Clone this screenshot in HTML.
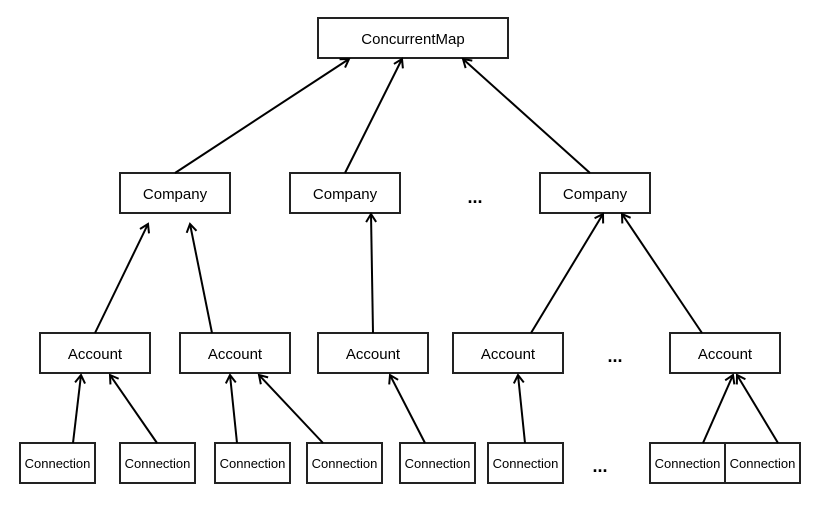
<!DOCTYPE html>
<html><head><style>
html,body{margin:0;padding:0;background:#fff;}
svg{display:block;}
text{font-family:"Liberation Sans",Arial,sans-serif;fill:#000;}
</style></head><body>
<svg width="814" height="506" viewBox="0 0 814 506" xmlns="http://www.w3.org/2000/svg">
<defs>
<marker id="a" markerWidth="12" markerHeight="12" refX="10" refY="6" orient="auto" markerUnits="userSpaceOnUse">
<path d="M2,1 L10,6 L2,11" fill="none" stroke="#000" stroke-width="2"/>
</marker>
</defs>
<g fill="#fff" stroke="#222" stroke-width="2">
<rect x="318" y="18" width="190" height="40"/>
<rect x="120" y="173" width="110" height="40"/>
<rect x="290" y="173" width="110" height="40"/>
<rect x="540" y="173" width="110" height="40"/>
<rect x="40" y="333" width="110" height="40"/>
<rect x="180" y="333" width="110" height="40"/>
<rect x="318" y="333" width="110" height="40"/>
<rect x="453" y="333" width="110" height="40"/>
<rect x="670" y="333" width="110" height="40"/>
<rect x="20" y="443" width="75" height="40"/>
<rect x="120" y="443" width="75" height="40"/>
<rect x="215" y="443" width="75" height="40"/>
<rect x="307" y="443" width="75" height="40"/>
<rect x="400" y="443" width="75" height="40"/>
<rect x="488" y="443" width="75" height="40"/>
<rect x="650" y="443" width="75" height="40"/>
<rect x="725" y="443" width="75" height="40"/>
</g>
<g stroke="#000" stroke-width="2" fill="none" marker-end="url(#a)">
<line x1="175" y1="173" x2="349" y2="59"/>
<line x1="345" y1="173" x2="402" y2="59"/>
<line x1="590" y1="173" x2="463" y2="59"/>
<line x1="95" y1="333" x2="148" y2="224"/>
<line x1="212" y1="333" x2="190" y2="224"/>
<line x1="373" y1="333" x2="371" y2="214"/>
<line x1="531" y1="333" x2="603" y2="214"/>
<line x1="702" y1="333" x2="622" y2="214"/>
<line x1="73" y1="443" x2="81" y2="375"/>
<line x1="157" y1="443" x2="110" y2="375"/>
<line x1="237" y1="443" x2="230" y2="375"/>
<line x1="323" y1="443" x2="259" y2="375"/>
<line x1="425" y1="443" x2="390" y2="375"/>
<line x1="525" y1="443" x2="518" y2="375"/>
<line x1="703" y1="443" x2="733" y2="375"/>
<line x1="778" y1="443" x2="737" y2="375"/>
</g>
<g font-size="15" text-anchor="middle">
<text x="413" y="44">ConcurrentMap</text>
<text x="175" y="199">Company</text>
<text x="345" y="199">Company</text>
<text x="595" y="199">Company</text>
<text x="95" y="359">Account</text>
<text x="235" y="359">Account</text>
<text x="373" y="359">Account</text>
<text x="508" y="359">Account</text>
<text x="725" y="359">Account</text>
</g>
<g font-size="13" text-anchor="middle">
<text x="57.5" y="468">Connection</text>
<text x="157.5" y="468">Connection</text>
<text x="252.5" y="468">Connection</text>
<text x="344.5" y="468">Connection</text>
<text x="437.5" y="468">Connection</text>
<text x="525.5" y="468">Connection</text>
<text x="687.5" y="468">Connection</text>
<text x="762.5" y="468">Connection</text>
</g>
<g font-size="18" font-weight="bold" text-anchor="middle">
<text x="475" y="203">...</text>
<text x="615" y="362">...</text>
<text x="600" y="472">...</text>
</g>
</svg>
</body></html>
